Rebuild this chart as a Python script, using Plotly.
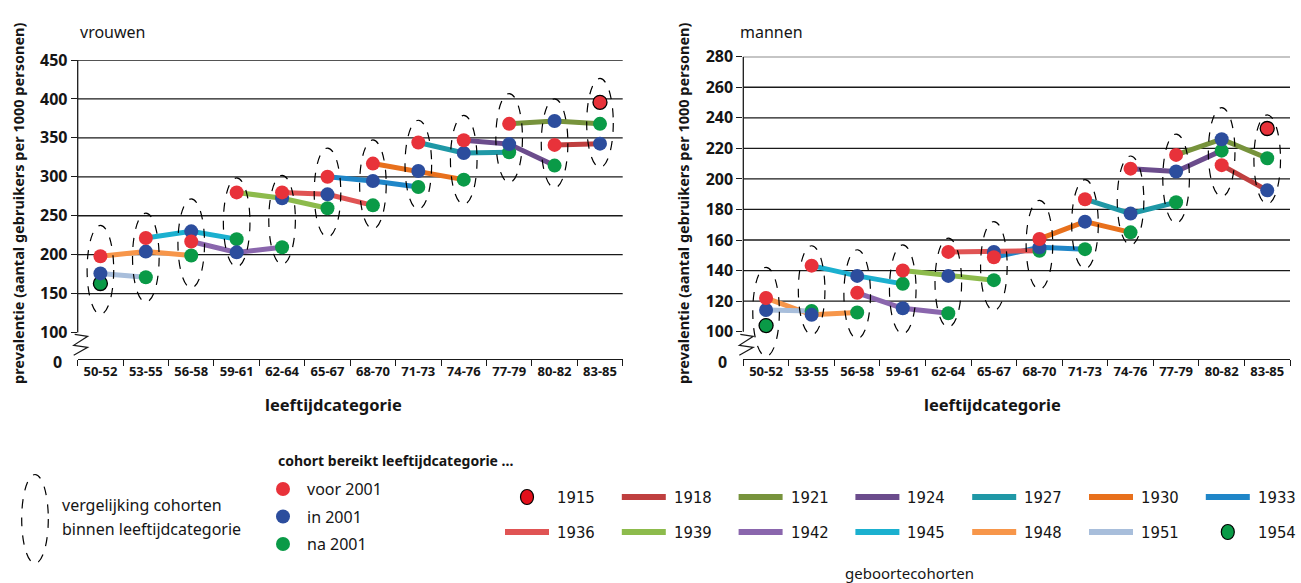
import plotly.graph_objects as go

# ---------------- data ----------------
ages = ['50-52', '53-55', '56-58', '59-61', '62-64', '65-67',
        '68-70', '71-73', '74-76', '77-79', '80-82', '83-85']
cohorts = [1915, 1918, 1921, 1924, 1927, 1930, 1933,
           1936, 1939, 1942, 1945, 1948, 1951, 1954]
cohort_colors = ['#e3101b', '#bf3f3f', '#77933c', '#6b4c8c', '#1f98a6', '#e8701c', '#1f86c8',
                 '#e05454', '#8dbb4c', '#8a66ad', '#1bb0cf', '#f7964a', '#a8bedb', '#0a9a47']

# prevalence per age category; "voor" = cohort reaches age before 2001, "in" = in 2001, "na" = after 2001
women_voor = [198, 221.5, 217, 280, 280, 300, 317, 344, 347, 368, 341, 395.7]
women_in = [176, 204, 230, 203, 272.5, 277.5, 294.7, 307.5, 330.6, 342, 371.7, 342.6]
women_na = [163, 171, 199, 220, 209.5, 259.6, 263.4, 287, 296.4, 331.5, 314.4, 368]

men_voor = [122, 143.2, 125.4, 140, 152.2, 148.7, 160.7, 186.7, 206.7, 215.7, 209, 233]
men_in = [114.2, 111, 136.5, 115.3, 136.5, 152.2, 155.2, 172, 177.3, 204.8, 226, 192.5]
men_na = [104, 113.5, 112.5, 131.3, 112, 133.7, 153, 154, 165, 184.7, 218.5, 213.5]

women_ticks = [100, 150, 200, 250, 300, 350, 400, 450]
men_ticks = [100, 120, 140, 160, 180, 200, 220, 240, 260, 280]

period_names = ['voor 2001', 'in 2001', 'na 2001']
period_colors = ['#e8323a', '#2c4d9d', '#0a9a47']
period_offset = [1948, 1951, 1954]   # birth year of cohort at first age category

FONT = 'Noto Sans'
TXT = '#151515'
W, H = 1301, 583

fig = go.Figure()
shapes = []
annotations = []


def px_x(p):
    return p / W


def px_y(p):
    return 1 - p / H


def add_panel(series, ticks, xa, ya, ymin):
    xref = 'x' if xa == 'xaxis' else 'x2'
    yref = 'y' if ya == 'yaxis' else 'y2'
    cohort_pts = {}
    for k, vals in enumerate(series):
        for i, v in enumerate(vals):
            c = period_offset[k] - 3 * i
            cohort_pts.setdefault(c, []).append((i, v, k))
    for c in cohorts:
        pts = sorted(cohort_pts.get(c, []))
        if len(pts) > 1:
            fig.add_trace(go.Scatter(
                x=[ages[i] for i, _, _ in pts], y=[v for _, v, _ in pts],
                mode='lines', line=dict(color=cohort_colors[cohorts.index(c)], width=5),
                xaxis=xref, yaxis=yref, showlegend=False, hoverinfo='skip'))
    for c in reversed(cohorts):
        pts = sorted(cohort_pts.get(c, []))
        single = len(pts) == 1
        fig.add_trace(go.Scatter(
            x=[ages[i] for i, _, _ in pts], y=[v for _, v, _ in pts],
            mode='markers',
            marker=dict(size=14, color=[period_colors[k] for _, _, k in pts],
                        line=dict(color='black', width=1.3 if single else 0)),
            xaxis=xref, yaxis=yref, showlegend=False,
            name=str(c)))
    for t in ticks[1:]:
        shapes.append(dict(type='line', xref=xref + ' domain', yref=yref, x0=0, x1=1, y0=t, y1=t,
                           line=dict(color='#1a1a1a', width=1.3), layer='below'))
    shapes.append(dict(type='line', xref=xref + ' domain', yref=yref, x0=0, x1=0,
                       y0=ticks[0], y1=ticks[-1], line=dict(color='#1a1a1a', width=1.3)))
    shapes.append(dict(type='path', xref=xref + ' domain', yref=yref, xsizemode='pixel', ysizemode='pixel',
                       xanchor=0, yanchor=ymin,
                       path='M -4,4 L 10,12 L -4,14 L 10,23 L -3,25',
                       line=dict(color='#1a1a1a', width=1.2)))
    annotations.append(dict(text='0', xref=xref + ' domain', yref=yref, x=0, y=ymin, xanchor='right',
                            yanchor='middle', xshift=-14, yshift=-3, showarrow=False,
                            font=dict(family=FONT, size=16, color=TXT, weight='bold')))
    for i, a in enumerate(ages):
        vals = [s[i] for s in series]
        mid = (min(vals) + max(vals)) / 2
        shapes.append(dict(type='circle', xref=xref, yref=yref, xsizemode='pixel', ysizemode='pixel',
                           xanchor=a, yanchor=mid, x0=-13.3, x1=13.3, y0=-44.5, y1=44.5,
                           line=dict(color='black', width=1.2, dash='dash'), layer='above'))


women_min = 65.7
men_min = 81.9
add_panel([women_voor, women_in, women_na], women_ticks, 'xaxis', 'yaxis', women_min)
add_panel([men_voor, men_in, men_na], men_ticks, 'xaxis2', 'yaxis2', men_min)

xcommon = dict(type='category', categoryorder='array', categoryarray=ages, range=[-0.5, 11.5],
               showline=True, linecolor='#1a1a1a', linewidth=1.3, ticks='outside', tickson='boundaries',
               ticklen=6, tickcolor='#1a1a1a', tickwidth=1.2, showgrid=False, zeroline=False,
               automargin=False,
               tickfont=dict(family=FONT, size=13, color=TXT, weight='bold'), fixedrange=True)
ycommon = dict(showline=False, showgrid=False, zeroline=False, ticks='outside', ticklen=6,
               tickcolor='#1a1a1a', tickwidth=1.2, automargin=False,
               tickfont=dict(family=FONT, size=16, color=TXT, weight='bold'), fixedrange=True)

fig.update_layout(
    width=W, height=H, margin=dict(l=0, r=0, t=0, b=0, pad=0),
    paper_bgcolor='white', plot_bgcolor='white', showlegend=False,
    xaxis=dict(xcommon, domain=[px_x(77.7), px_x(622.7)], anchor='y'),
    yaxis=dict(ycommon, domain=[px_y(359.3), px_y(60)], range=[women_min, women_ticks[-1]],
               tickvals=women_ticks, ticktext=[str(t) for t in women_ticks], anchor='x'),
    xaxis2=dict(xcommon, domain=[px_x(743.3), px_x(1290)], anchor='y2'),
    yaxis2=dict(ycommon, domain=[px_y(359.3), px_y(56.7)], range=[men_min, men_ticks[-1]],
                tickvals=men_ticks, ticktext=[str(t) for t in men_ticks], anchor='x2'),
)


def ann(text, x, y, size=16, xanchor='left', angle=0, weight=400, family=FONT):
    annotations.append(dict(text=text, xref='paper', yref='paper', x=px_x(x), y=px_y(y),
                            xanchor=xanchor, yanchor='middle', showarrow=False, textangle=angle,
                            font=dict(family=family, size=size, color=TXT, weight=weight)))


ylab = 'prevalentie (aantal gebruikers per 1000 personen)'
ann('vrouwen', 78, 32, 16)
ann('mannen', 738, 32, 16)
ann(ylab, 18, 204, 14.5, xanchor='center', angle=-90, weight='bold')
ann(ylab, 683, 204, 14.5, xanchor='center', angle=-90, weight='bold')
ann('leeftijdcategorie', 333, 404, 16.5, xanchor='center', weight='bold')
ann('leeftijdcategorie', 992, 404, 16.5, xanchor='center', weight='bold')

# legend: ellipse
shapes.append(dict(type='circle', xref='paper', yref='paper', xsizemode='pixel', ysizemode='pixel',
                   xanchor=px_x(35), yanchor=px_y(519), x0=-13.3, x1=13.3, y0=-44.5, y1=44.5,
                   line=dict(color='black', width=1.2, dash='dash')))
ann('vergelijking cohorten', 60, 505, 16)
ann('binnen leeftijdcategorie', 60, 529, 16)

# legend: periods
ann('cohort bereikt leeftijdcategorie ...', 276, 460, 14, weight='bold')
for k, (nm, col) in enumerate(zip(period_names, period_colors)):
    yy = 489 + 27.5 * k
    shapes.append(dict(type='circle', xref='paper', yref='paper', xsizemode='pixel', ysizemode='pixel',
                       xanchor=px_x(283), yanchor=px_y(yy), x0=-7, x1=7, y0=-7, y1=7,
                       fillcolor=col, line=dict(width=0)))
    ann(nm, 305, yy, 16)

# legend: birth cohorts
YFONT = 'Liberation Sans Narrow, DejaVu Sans Condensed, Noto Sans'
for n, (c, col) in enumerate(zip(cohorts, cohort_colors)):
    row, colidx = divmod(n, 7)
    yy = 497 + 35 * row
    x0 = 505 + 116.8 * colidx
    if c in (1915, 1954):
        shapes.append(dict(type='circle', xref='paper', yref='paper', xsizemode='pixel', ysizemode='pixel',
                           xanchor=px_x(x0 + 22), yanchor=px_y(yy), x0=-6.5, x1=6.5, y0=-7.5, y1=7.5,
                           fillcolor=col, line=dict(color='black', width=1.2)))
    else:
        shapes.append(dict(type='line', xref='paper', yref='paper', x0=px_x(x0), x1=px_x(x0 + 44),
                           y0=px_y(yy), y1=px_y(yy), line=dict(color=col, width=6)))
    ann(str(c), x0 + 50, yy, 16.5, family=YFONT)
ann('geboortecohorten', 909, 573, 15, xanchor='center')

fig.update_layout(shapes=shapes, annotations=annotations)
fig.write_html('out.html', post_script="document.body.style.margin='0';")
